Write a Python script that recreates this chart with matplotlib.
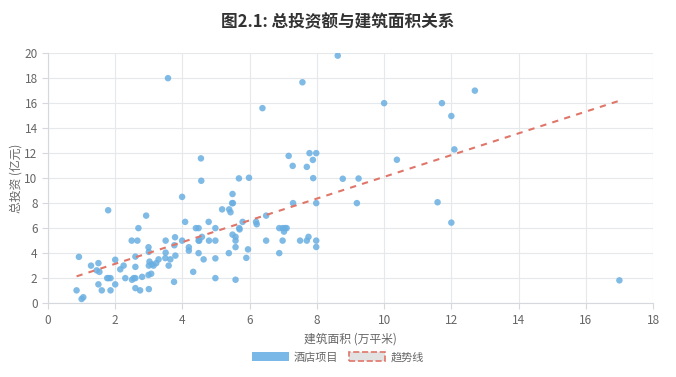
import matplotlib
matplotlib.use('Agg')
import matplotlib.pyplot as plt
from matplotlib.patches import Patch
import numpy as np

plt.rcParams['font.family'] = ['Noto Sans CJK SC', 'DejaVu Sans']

# 建筑面积 (万平米) and 总投资 (亿元)
area = [0.85, 0.92, 1.00, 1.05, 1.28, 1.45, 1.50, 1.53, 1.50, 1.60,
        1.76, 1.80, 1.86, 1.79, 1.86, 2.00, 2.00, 2.15, 2.25, 2.30,
        2.49, 2.50, 2.55, 2.60, 2.60, 2.60, 2.60, 2.66, 2.69, 2.74,
        2.80, 2.92, 2.99, 3.00, 3.00, 2.99, 3.02, 3.00, 3.07, 3.09,
        3.14, 3.22, 3.29, 3.49, 3.50, 3.50, 3.57, 3.59, 3.64, 3.75,
        3.76, 3.78, 3.79, 3.99, 3.99, 4.08, 4.19, 4.19, 4.32, 4.40,
        4.48, 4.48, 4.50, 4.48, 4.55, 4.56, 4.58, 4.63, 4.78, 4.79,
        4.98, 4.98, 4.98, 4.98, 5.18, 5.38, 5.39, 5.43, 5.48, 5.49,
        5.49, 5.50, 5.58, 5.58, 5.58, 5.58, 5.68, 5.69, 5.70, 5.79,
        5.90, 5.95, 5.98, 6.19, 6.21, 6.38, 6.49, 6.49, 6.88, 6.88,
        6.98, 6.98, 7.05, 7.10, 7.02, 7.16, 7.28, 7.29, 7.50, 7.57,
        7.70, 7.70, 7.75, 7.78, 7.88, 7.89, 7.98, 7.98, 7.98, 7.98,
        8.62, 8.77, 9.19, 9.24, 10.00, 10.38, 11.59, 11.72, 12.00, 12.00,
        12.09, 12.70, 17.00]
invest = [1.02, 3.70, 0.33, 0.47, 3.00, 2.62, 3.20, 2.50, 1.50, 1.02,
          2.00, 2.00, 2.00, 7.43, 1.02, 3.47, 1.50, 2.70, 3.00, 2.00,
          5.00, 1.87, 2.00, 2.00, 3.72, 2.90, 1.20, 5.00, 6.00, 1.02,
          2.10, 7.00, 4.47, 4.10, 1.12, 2.25, 3.32, 3.00, 2.35, 3.10,
          3.00, 3.20, 3.50, 3.60, 4.04, 5.00, 18.00, 3.00, 3.50, 1.70,
          4.63, 5.27, 3.80, 5.00, 8.50, 6.50, 4.47, 4.20, 2.50, 6.00,
          6.00, 5.00, 5.00, 4.00, 11.58, 9.79, 5.30, 3.50, 6.50, 5.00,
          5.00, 6.00, 3.58, 2.00, 7.50, 4.00, 7.50, 7.27, 8.00, 8.73,
          5.48, 8.00, 5.30, 5.00, 4.48, 1.87, 9.98, 6.00, 5.90, 6.50,
          3.62, 4.30, 10.03, 6.50, 6.31, 15.60, 7.00, 5.00, 6.00, 4.00,
          5.00, 6.00, 6.00, 6.00, 5.72, 11.78, 10.98, 8.00, 5.00, 17.67,
          10.90, 5.00, 5.30, 12.00, 11.46, 10.00, 12.00, 8.00, 5.00, 4.49,
          19.80, 9.95, 8.00, 9.97, 16.00, 11.47, 8.07, 16.00, 14.97, 6.44,
          12.30, 17.00, 1.82]

x_ticks = list(range(0, 19, 2))
y_ticks = list(range(0, 21, 2))

point_color = '#6aafe2'
trend_color = '#e0766a'
grid_color = '#e6e9ec'
text_color = '#666666'

x = np.array(area)
y = np.array(invest)
k, b = np.polyfit(x, y, 1)
tx = np.array([x.min(), x.max()])

fig = plt.figure(figsize=(6.76, 3.77), dpi=100)
ax = fig.add_axes([0.071, 0.196, 0.895, 0.663])

ax.scatter(x, y, s=22, color=point_color, alpha=0.85, edgecolors='none', zorder=3)
ax.plot(tx, k * tx + b, color=trend_color, lw=1.5, ls=(0, (3, 3)), zorder=4)

ax.set_xlim(0, 18)
ax.set_ylim(0, 20)
ax.set_xticks(x_ticks)
ax.set_yticks(y_ticks)
ax.grid(True, color=grid_color, lw=0.8)
ax.set_axisbelow(True)
for s in ['top', 'right']:
    ax.spines[s].set_visible(False)
for s in ['left', 'bottom']:
    ax.spines[s].set_color('#d5d8dc')
ax.tick_params(colors='#d5d8dc', labelcolor=text_color, labelsize=8.5, length=4)

ax.set_xlabel('建筑面积 (万平米)', fontsize=8.5, color=text_color, labelpad=4)
ax.set_ylabel('总投资 (亿元)', fontsize=8.5, color=text_color, labelpad=1)

fig.suptitle('图2.1: 总投资额与建筑面积关系', fontsize=12, fontweight='bold',
             color='#333333', y=0.965)

handles = [Patch(facecolor='#7ab8e8', edgecolor='none', label='酒店项目'),
           Patch(facecolor='#e2e2e2', edgecolor=trend_color, ls='--', lw=1.2, label='趋势线')]
fig.legend(handles=handles, loc='center', bbox_to_anchor=(0.5, 0.052), ncol=2,
           frameon=False, fontsize=8, handlelength=3.3, handleheight=0.9,
           handletextpad=0.5, columnspacing=0.9, labelcolor=text_color)

fig.savefig('out.png', dpi=100)
